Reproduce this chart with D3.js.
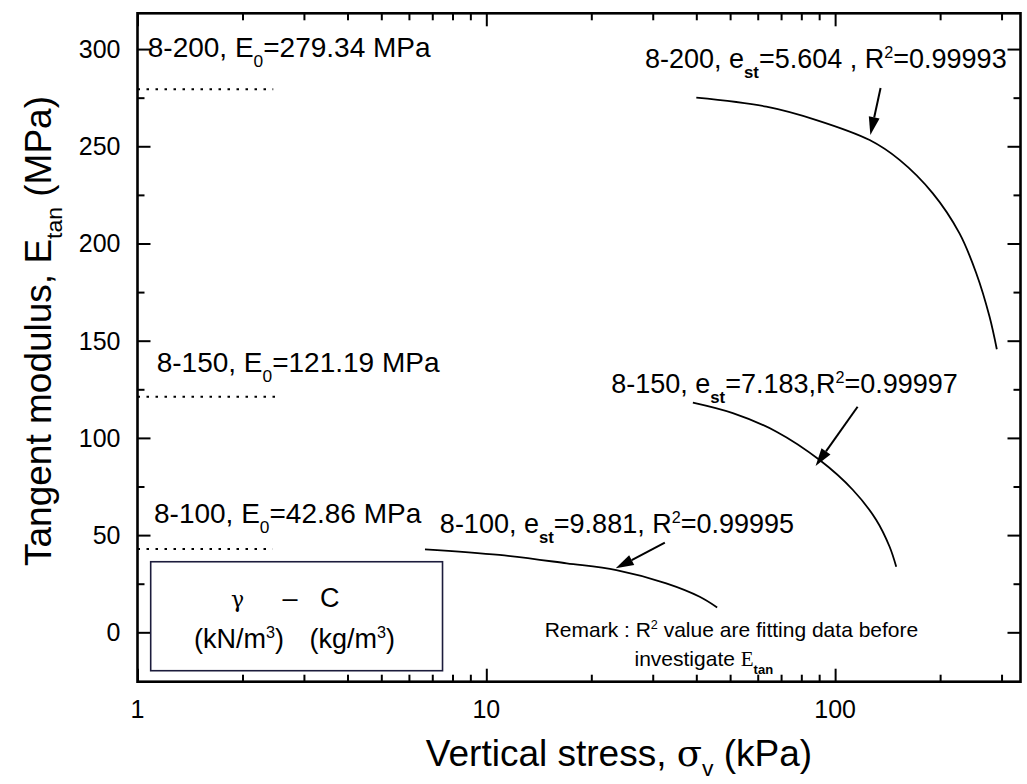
<!DOCTYPE html>
<html>
<head>
<meta charset="utf-8">
<script src="https://cdn.jsdelivr.net/npm/d3@7"></script>
<style>
  body { margin: 0; background: #fff; }
  svg { display: block; font-family: "Liberation Sans", Arial, sans-serif; }
</style>
</head>
<body>
<div id="chart"></div>
<script>
// fitted tangent modulus curves
var sigma200 = [40.0, 63.5, 88.4, 125.6, 153, 190.6, 227.3, 253.9, 277.2, 290.8];
var etan200  = [275.0, 270.4, 263.5, 253.2, 243.0, 225.8, 205.2, 184.7, 162.3, 145.6];
var sigma150 = [39.1, 50.9, 67.9, 90.3, 112.5, 131.2, 143.3, 149.7];
var etan150  = [118.1, 112.7, 103.2, 88.6, 73.2, 57.8, 44.0, 33.7];
var sigma100 = [6.67, 10.9, 17.0, 23.6, 32.8, 40.9, 45.9];
var etan100  = [42.7, 39.8, 35.5, 32.0, 25.2, 18.3, 12.8];

// initial modulus for each sample (dotted lines)
var samples   = ["8-200", "8-150", "8-100"];
var e0Values  = [279.34, 121.19, 42.86];
var e0LineEnd = [2.45, 2.56, 2.44];
var estValues = ["5.604 ", "7.183", "9.881"];
var r2Values  = ["0.99993", "0.99997", "0.99995"];

// axis ticks
var xMajor = [1, 10, 100];
var xMinor = [2, 3, 4, 5, 6, 7, 8, 9, 20, 30, 40, 50, 60, 70, 80, 90, 200, 300];
var yMajor = [0, 50, 100, 150, 200, 250, 300];
var yMinor = [25, 75, 125, 175, 225, 275];

var width = 1027, height = 784;
var margin = {top: 13.3, right: 6.5, bottom: 102.3, left: 137.5};
var w = width - margin.left - margin.right;
var h = height - margin.top - margin.bottom;

var x = d3.scaleLog().domain([1, 340]).range([0, w]);
var y = d3.scaleLinear().domain([-25.4, 318.4]).range([h, 0]);

var svg = d3.select("#chart").append("svg")
    .attr("width", width)
    .attr("height", height);

var g = svg.append("g")
    .attr("transform", "translate(" + margin.left + "," + margin.top + ")");

// little helper for text with sub/superscripts: parts = [[text, "sub"|"sup"|"", weight, family], ...]
function richText(sel, parts, size, subShift) {
  subShift = subShift || 0.36;
  var t = sel.append("text").style("font-size", size + "px");
  var shift = 0;
  parts.forEach(function(p) {
    var s = t.append("tspan").text(p[0]);
    var target = 0;
    if (p[1] == "sub") { target = size * subShift; s.style("font-size", (size * 0.62) + "px"); }
    if (p[1] == "sup") { target = -size * 0.38; s.style("font-size", (size * 0.6) + "px"); }
    if (p[2]) s.style("font-weight", p[2]);
    if (p[3]) s.style("font-family", p[3]);
    if (target - shift != 0) s.attr("dy", target - shift);
    shift = target;
  });
  return t;
}

// ticks (inward on all four sides)
function tickAxis(axis, scale, vals, len, tr) {
  g.append("g")
      .attr("transform", tr)
      .call(axis(scale).tickValues(vals).tickSize(len).tickFormat(""))
      .call(function(a) { a.select(".domain").remove(); })
      .selectAll("line").attr("stroke", "#000").attr("stroke-width", 2);
}
tickAxis(d3.axisBottom, x, xMajor, -13, "translate(0," + h + ")");
tickAxis(d3.axisBottom, x, xMinor, -7, "translate(0," + h + ")");
tickAxis(d3.axisTop, x, xMajor, -13, null);
tickAxis(d3.axisTop, x, xMinor, -7, null);
tickAxis(d3.axisLeft, y, yMajor, -13, null);
tickAxis(d3.axisLeft, y, yMinor, -7, null);
tickAxis(d3.axisRight, y, yMajor, -13, "translate(" + w + ",0)");
tickAxis(d3.axisRight, y, yMinor, -7, "translate(" + w + ",0)");

// tick labels
g.append("g").selectAll("text")
    .data(yMajor)
  .enter().append("text")
    .attr("x", -17)
    .attr("y", function(d) { return y(d); })
    .attr("dy", "0.36em")
    .style("text-anchor", "end")
    .style("font-size", "25px")
    .text(function(d) { return d; });

g.append("g").selectAll("text")
    .data(xMajor)
  .enter().append("text")
    .attr("x", function(d) { return x(d); })
    .attr("y", h + 36)
    .style("text-anchor", "middle")
    .style("font-size", "25px")
    .text(function(d) { return d; });

// frame
g.append("rect")
    .attr("width", w)
    .attr("height", h)
    .attr("fill", "none")
    .attr("stroke", "#000")
    .attr("stroke-width", 2.6);

// axis titles
richText(svg, [["Vertical stress, ", ""], ["σ", "", null, "'DejaVu Serif', serif"], ["v", "sub"], [" (kPa)", ""]], 37, 0.26)
    .attr("x", 619)
    .attr("y", 766)
    .style("text-anchor", "middle");

richText(svg, [["Tangent modulus, E", ""], ["tan", "sub"], [" (MPa)", ""]], 37, 0.3)
    .attr("transform", "translate(51,331) rotate(-90)")
    .style("text-anchor", "middle");

// dotted E0 reference lines
var e0Pos = [[1.07, 296], [1.135, 134], [1.115, 56.2]];
samples.forEach(function(s, i) {
  g.append("line")
      .attr("x1", x(1)).attr("x2", x(e0LineEnd[i]))
      .attr("y1", y(e0Values[i])).attr("y2", y(e0Values[i]))
      .attr("stroke", "#000")
      .attr("stroke-width", 2)
      .attr("stroke-dasharray", "2.5,6.5");
  richText(g, [[s + ", E", ""], ["0", "sub"], ["=" + e0Values[i] + " MPa", ""]], 28)
      .attr("x", x(e0Pos[i][0]))
      .attr("y", y(e0Pos[i][1]));
});

// curves
var line = d3.line()
    .x(function(d) { return x(d[0]); })
    .y(function(d) { return y(d[1]); })
    .curve(d3.curveCatmullRom);

[[sigma200, etan200], [sigma150, etan150], [sigma100, etan100]].forEach(function(c) {
  g.append("path")
      .datum(d3.zip(c[0], c[1]))
      .attr("fill", "none")
      .attr("stroke", "#000")
      .attr("stroke-width", 1.8)
      .attr("d", line);
});

// curve labels
var labelPos = [[28.5, 290.3], [22.8, 123], [7.36, 51]];
samples.forEach(function(s, i) {
  var sep = i == 1 ? "," : ", ";
  richText(g, [[s + ", e", ""], ["st", "sub", "bold"], ["=" + estValues[i] + sep + "R", ""], ["2", "sup"], ["=" + r2Values[i], ""]], 27)
      .attr("x", x(labelPos[i][0]))
      .attr("y", y(labelPos[i][1]));
});

// arrows: [from sigma, from E, to sigma, to E]
var arrows = [[135, 280, 126.2, 255.8], [116, 116, 87.9, 85.5], [32.5, 46.1, 23.5, 32.9]];
arrows.forEach(function(a) {
  var x1 = x(a[0]), y1 = y(a[1]), x2 = x(a[2]), y2 = y(a[3]);
  var ang = Math.atan2(y2 - y1, x2 - x1);
  var hl = 18, hw = 5.5;
  var bx = x2 - hl * Math.cos(ang), by = y2 - hl * Math.sin(ang);
  g.append("line")
      .attr("x1", x1).attr("y1", y1).attr("x2", bx).attr("y2", by)
      .attr("stroke", "#000").attr("stroke-width", 2);
  g.append("path")
      .attr("d", "M" + x2 + "," + y2 +
        "L" + (bx + hw * Math.sin(ang)) + "," + (by - hw * Math.cos(ang)) +
        "L" + (bx - hw * Math.sin(ang)) + "," + (by + hw * Math.cos(ang)) + "Z")
      .attr("fill", "#000");
});

// legend box
var box = [1.091, 36.3, 7.49, -19.75];
g.append("rect")
    .attr("x", x(box[0]))
    .attr("y", y(box[1]))
    .attr("width", x(box[2]) - x(box[0]))
    .attr("height", y(box[3]) - y(box[1]))
    .attr("fill", "#fff")
    .attr("stroke", "#1c1c3c")
    .attr("stroke-width", 1.6);

g.append("text").attr("x", x(1.937)).attr("y", y(13.2))
    .style("text-anchor", "middle").style("font-size", "22px")
    .style("font-family", "'DejaVu Serif', serif").text("γ");
g.append("text").attr("x", x(2.735)).attr("y", y(13.2))
    .style("text-anchor", "middle").style("font-size", "27px").text("–");
g.append("text").attr("x", x(3.56)).attr("y", y(13.2))
    .style("text-anchor", "middle").style("font-size", "27px").text("C");
richText(g, [["(kN/m", ""], ["3", "sup"], [")", ""]], 27)
    .attr("x", x(1.954)).attr("y", y(-8.1)).style("text-anchor", "middle");
richText(g, [["(kg/m", ""], ["3", "sup"], [")", ""]], 27)
    .attr("x", x(4.13)).attr("y", y(-8.1)).style("text-anchor", "middle");

// remark
richText(g, [["Remark : R", ""], ["2", "sup"], [" value are fitting data before", ""]], 21)
    .attr("x", x(14.7)).attr("y", y(-2.5));
richText(g, [["investigate ", ""], ["E", "", null, "'Liberation Serif', serif"], ["tan", "sub", "bold"]], 21)
    .attr("x", x(26.6)).attr("y", y(-17.4));
</script>
</body>
</html>
